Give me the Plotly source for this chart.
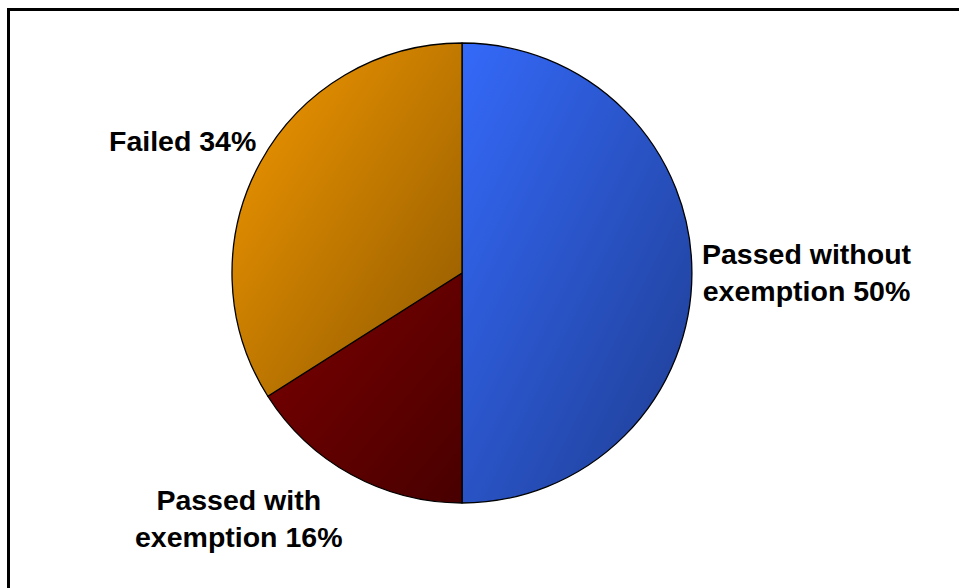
import base64
import math

import plotly.graph_objects as go

# Exam outcome shares (percent)
categories = ["Passed without exemption", "Passed with exemption", "Failed"]
label_lines = ["Passed without<br>exemption", "Passed with<br>exemption", "Failed"]
values = [50, 16, 34]
colors = ["#3469F9", "#7C0000", "#F59900"]

W, H = 959, 588
# pie box in pixels (left, top, size)
PX, PY, PS = 232, 43, 460
# label anchor points in pixels
label_pos = [(807, 272), (239, 518), (182, 141)]

FONT = "Liberation Sans, Arial, sans-serif"

fig = go.Figure()
fig.add_trace(go.Pie(
    labels=categories,
    values=values,
    sort=False,
    direction="clockwise",
    rotation=0,
    marker=dict(colors=colors, line=dict(color="black", width=1.3)),
    textinfo="none",
    hoverinfo="skip",
    showlegend=False,
    domain=dict(x=[PX / W, (PX + PS) / W], y=[1 - (PY + PS) / H, 1 - PY / H]),
))

# per-slice diagonal shading (light at top-left, dark at bottom-right)
total = sum(values)
R = PS / 2
paths = []
defs = []
start = 0.0
for i, v in enumerate(values):
    a0 = 2 * math.pi * start / total
    a1 = 2 * math.pi * (start + v) / total
    x0, y0 = R + R * math.sin(a0), R - R * math.cos(a0)
    x1, y1 = R + R * math.sin(a1), R - R * math.cos(a1)
    large = 1 if (a1 - a0) > math.pi else 0
    defs.append(
        f'<linearGradient id="g{i}" x1="0" y1="0" x2="1" y2="1">'
        f'<stop offset="0" stop-color="#000" stop-opacity="0"/>'
        f'<stop offset="1" stop-color="#000" stop-opacity="0.42"/>'
        f'</linearGradient>'
    )
    paths.append(
        f'<path d="M{R},{R} L{x0:.3f},{y0:.3f} A{R},{R} 0 {large} 1 {x1:.3f},{y1:.3f} Z" '
        f'fill="url(#g{i})"/>'
    )
    start += v
svg = (
    f'<svg xmlns="http://www.w3.org/2000/svg" width="{PS}" height="{PS}" '
    f'viewBox="0 0 {PS} {PS}"><defs>{"".join(defs)}</defs>{"".join(paths)}</svg>'
)
uri = "data:image/svg+xml;base64," + base64.b64encode(svg.encode()).decode()
fig.add_layout_image(dict(
    source=uri, xref="paper", yref="paper",
    x=PX / W, y=1 - PY / H, sizex=PS / W, sizey=PS / H,
    xanchor="left", yanchor="top", sizing="stretch", layer="above",
))

# slice labels
for lines, v, (lx, ly) in zip(label_lines, values, label_pos):
    fig.add_annotation(
        text=f"<b>{lines} {v}%</b>",
        x=lx / W, y=1 - ly / H, xref="paper", yref="paper",
        xanchor="center", yanchor="middle", align="center",
        showarrow=False,
        font=dict(family=FONT, size=28.5, color="black"),
    )

# outer frame
fig.add_shape(
    type="rect", xref="paper", yref="paper",
    x0=8.5 / W, x1=1.05, y0=-0.05, y1=1 - 9.5 / H,
    line=dict(color="black", width=3), fillcolor="rgba(0,0,0,0)",
)

fig.update_layout(
    width=W, height=H,
    margin=dict(l=0, r=0, t=0, b=0),
    paper_bgcolor="white",
    plot_bgcolor="white",
)

fig.write_html("out.html")
